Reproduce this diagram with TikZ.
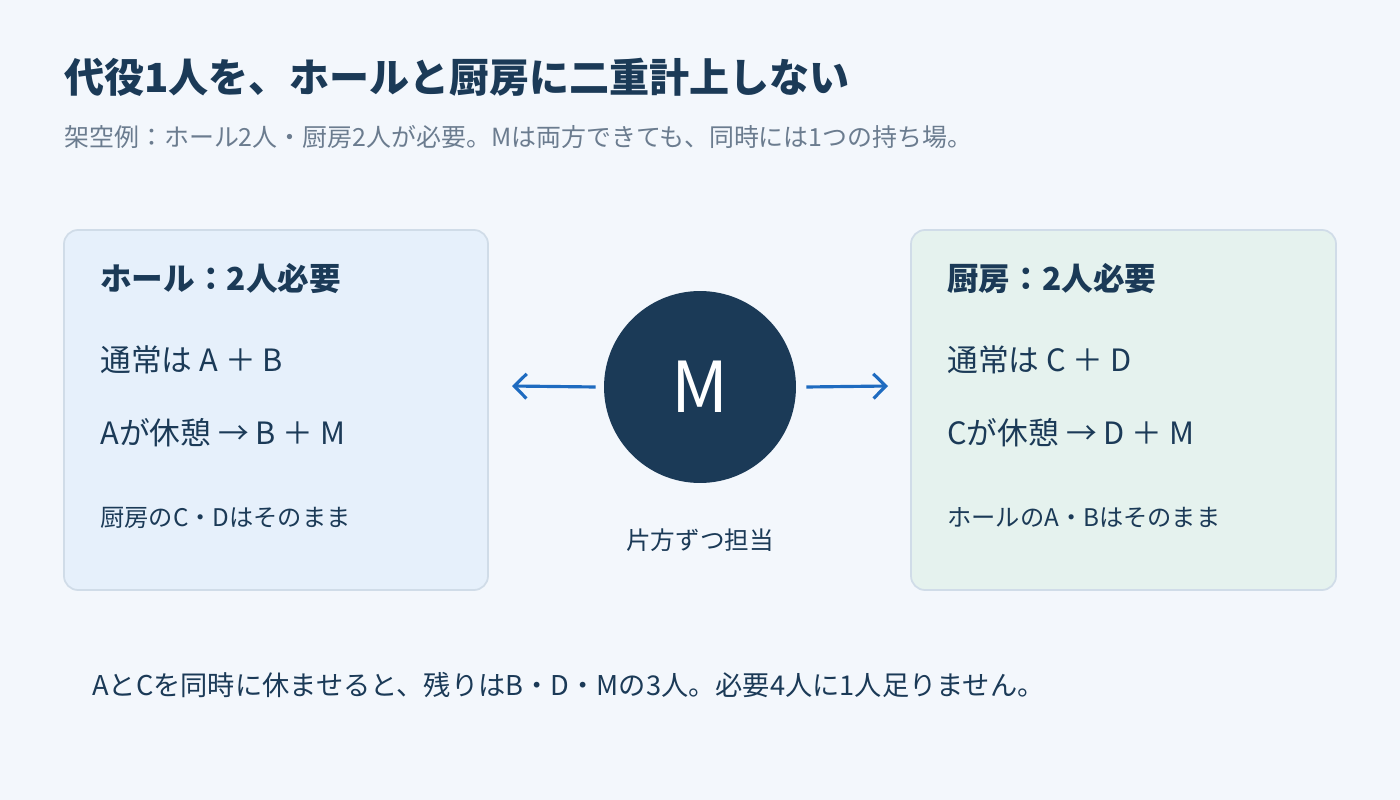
\documentclass[tikz,border=0pt]{standalone}
\usepackage{fontspec}
\setmainfont{Noto Sans CJK JP}
\usetikzlibrary{arrows.meta}
\definecolor{bgc}{HTML}{F3F7FC}
\definecolor{navy}{HTML}{1B3A57}
\definecolor{subgray}{HTML}{6B7C8F}
\definecolor{hallfill}{HTML}{E6F0FB}
\definecolor{kitfill}{HTML}{E5F2EE}
\definecolor{edgec}{HTML}{D0DCE8}
\definecolor{arrowc}{HTML}{1E6BC0}
\tikzset{
  box/.style={draw=edgec, line width=1pt, rounded corners=8pt},
  txt/.style={anchor=west, inner sep=0pt, text=navy},
  head/.style={txt, font=\fontsize{18}{20}\selectfont\bfseries},
  body/.style={txt, font=\fontsize{17.5}{20}\selectfont},
  small/.style={txt, font=\fontsize{13.8}{16}\selectfont},
  link/.style={-{Straight Barb[length=7pt,width=14pt]}, draw=arrowc, line width=1.8pt}
}
\begin{document}
\begin{tikzpicture}[x=0.02cm,y=-0.02cm]
    \fill[bgc] (0,0) rectangle (1400,800);
    % title
    \node[txt, font=\fontsize{22.8}{26}\selectfont\bfseries] (title) at (64,77) {代役1人を、ホールと厨房に二重計上しない};
    \node[txt, text=subgray, font=\fontsize{14.2}{17}\selectfont] (sub) at (64,137) {架空例：ホール2人・厨房2人が必要。Mは両方できても、同時には1つの持ち場。};

    % hall
    \draw[box, fill=hallfill] (64,230) rectangle (488,590);
    \node[head] (hallhead) at (100,279) {ホール：2人必要};
    \node[body] (hall1) at (100,360) {通常は A ＋ B};
    \node[body] (hall2) at (100,433) {Aが休憩 → B ＋ M};
    \node[small] (hall3) at (100,518) {厨房のC・Dはそのまま};

    % kitchen
    \draw[box, fill=kitfill] (911,230) rectangle (1336,590);
    \node[head] (kithead) at (947,279) {厨房：2人必要};
    \node[body] (kit1) at (947,360) {通常は C ＋ D};
    \node[body] (kit2) at (947,433) {Cが休憩 → D ＋ M};
    \node[small] (kit3) at (947,518) {ホールのA・Bはそのまま};

    % M
    \node[circle, fill=navy, minimum size=3.84cm, inner sep=0pt, text=white,
          font=\fontsize{40}{42}\selectfont] (m) at (700,387) {M};
    \coordinate (lend) at (512,386);
    \coordinate (rend) at (888,386);
    \draw[link] (m.west) ++(-8,0) -- (lend);
    \draw[link] (m.east) ++(10,0) -- (rend);
    \node[txt, anchor=center, font=\fontsize{14}{16}\selectfont] (mnote) at (700,540) {片方ずつ担当};

    % footer
    \node[txt, font=\fontsize{15.5}{18}\selectfont] (foot) at (92,685) {AとCを同時に休ませると、残りはB・D・Mの3人。必要4人に1人足りません。};
\end{tikzpicture}
\end{document}
